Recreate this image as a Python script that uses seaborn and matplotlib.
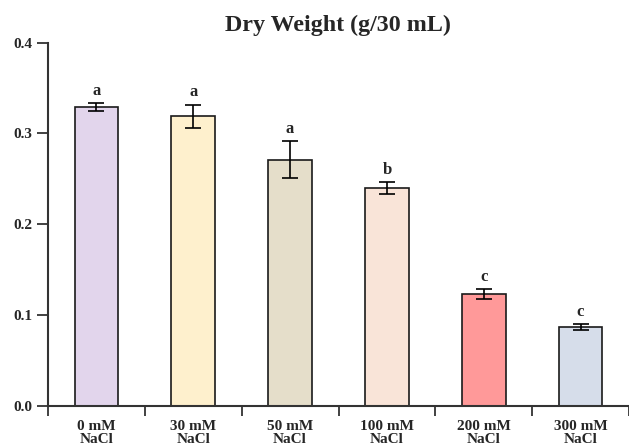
import numpy as np
import pandas as pd
import seaborn as sns
from matplotlib import pyplot as plt
from matplotlib.ticker import FixedLocator

# data
groups  = ['0 mM\nNaCl', '30 mM\nNaCl', '50 mM\nNaCl', '100 mM\nNaCl', '200 mM\nNaCl', '300 mM\nNaCl']
weight  = [0.329, 0.319, 0.271, 0.240, 0.123, 0.0865]
err     = [0.0044, 0.0129, 0.0204, 0.0066, 0.0055, 0.0031]
letters = ['a', 'a', 'a', 'b', 'c', 'c']
colors  = ['#E2D5EC', '#FEF0CD', '#E5DECA', '#F9E4D8', '#FF9999', '#D6DDEA']

sns.set_style('ticks')
plt.rcParams['font.family'] = ['Liberation Serif', 'DejaVu Serif']
plt.rcParams['font.weight'] = 'bold'

df = pd.DataFrame({'group': groups, 'weight': weight})

fig = plt.figure(figsize=(6.29, 4.45), dpi=100)
ax = fig.add_axes([48/629, 1-405.7/445, 581/629, (405.7-42.7)/445])

sns.barplot(data=df, x='group', y='weight', hue='group', palette=colors,
            saturation=1, width=0.45, edgecolor='#1a1a1a', linewidth=1.2,
            legend=False, ax=ax)
ax.errorbar(np.arange(len(groups)), weight, yerr=err, fmt='none',
            ecolor='black', elinewidth=1.2, capsize=6, capthick=1.2)

for i, (v, e, l) in enumerate(zip(weight, err, letters)):
    ax.annotate(l, (i, v+e), xytext=(0, 3), textcoords='offset points',
                ha='center', va='bottom', fontsize=12, fontweight='bold')

# axes styling
ax.set_xlim(-0.5, 5.5)
ax.set_ylim(0, 0.4)
ax.set_yticks([0.0, 0.1, 0.2, 0.3, 0.4])
ax.set_yticklabels(['0.0', '0.1', '0.2', '0.3', '0.4'])
ax.xaxis.set_minor_locator(FixedLocator(np.arange(-0.5, 6, 1)))
ax.tick_params(axis='x', which='major', length=0, pad=10, labelsize=11)
ax.tick_params(axis='x', which='minor', length=7, width=1.3, color='#333333', direction='out')
ax.tick_params(axis='y', length=8, width=1.3, color='#333333', labelsize=11)
for lab in ax.get_xticklabels() + ax.get_yticklabels():
    lab.set_fontweight('bold')
    lab.set_linespacing(1.05)
ax.set_xlabel('')
ax.set_ylabel('')
sns.despine(ax=ax)
for s in ['left', 'bottom']:
    ax.spines[s].set_linewidth(1.5)
    ax.spines[s].set_color('#333333')

fig.suptitle('Dry Weight (g/30 mL)', fontsize=17.3, fontweight='bold', x=0.538, y=0.966)

plt.savefig('out.png', dpi=100)
